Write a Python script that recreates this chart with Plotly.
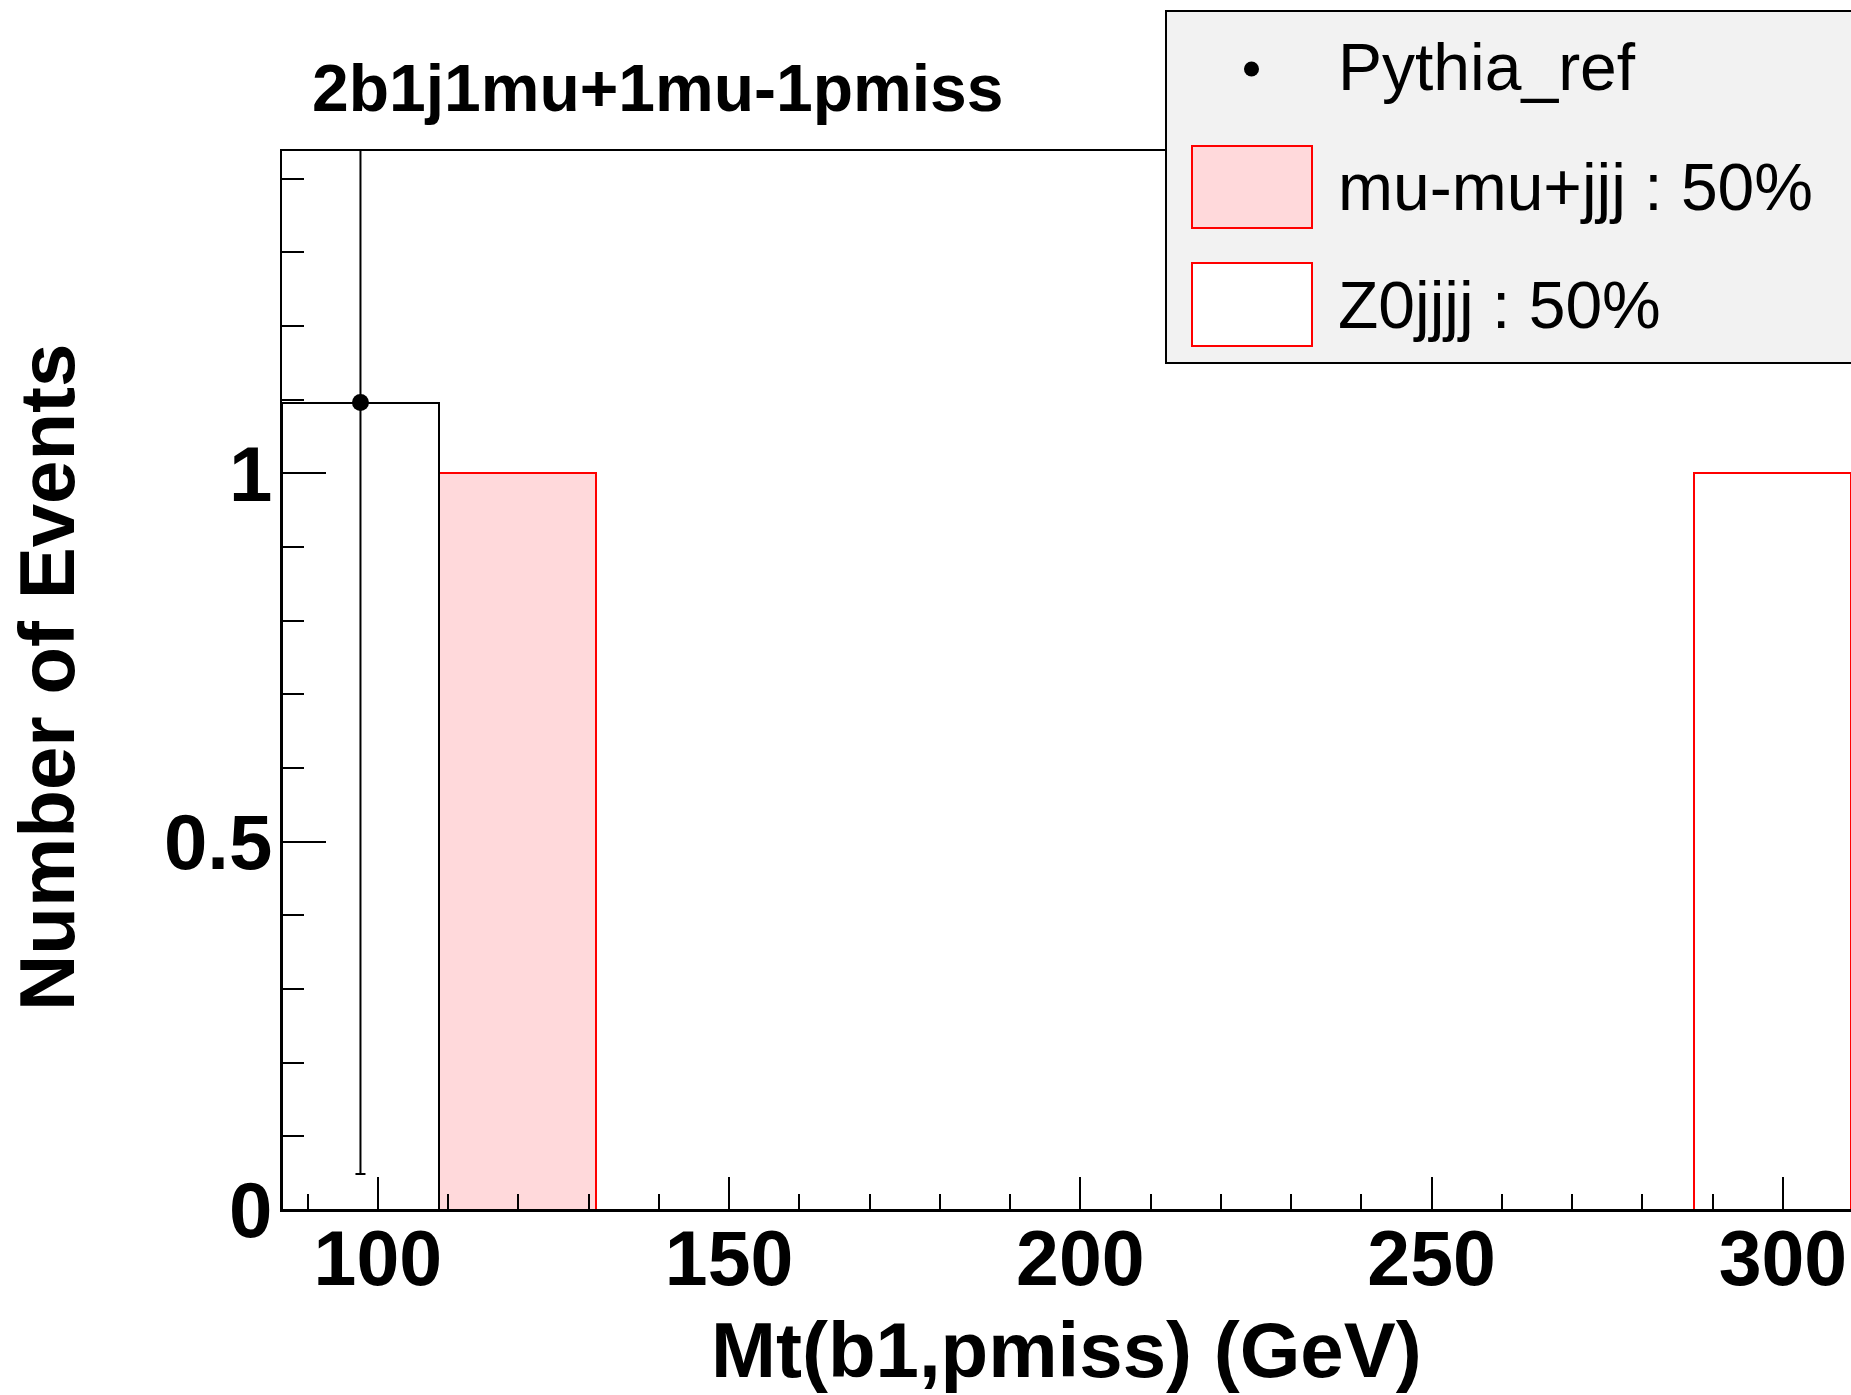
import plotly.graph_objects as go

# ---- histogram definition: Mt(b1,pmiss), 10 equal bins ----
bin_low = 86.36
bin_width = 22.34
n_bins = 10

# event counts per bin
pythia_ref = [1.096, 0, 0, 0, 0, 0, 0, 0, 0, 0]
pythia_err = [1.047, 0, 0, 0, 0, 0, 0, 0, 0, 0]
mumu_jjj = [0, 1, 0, 0, 0, 0, 0, 0, 0, 0]
z0_jjjj = [0, 0, 0, 0, 0, 0, 0, 0, 0, 1]

legend_labels = ["Pythia_ref", "mu-mu+jjj : 50%", "Z0jjjj : 50%"]
title_text = "2b1j1mu+1mu-1pmiss"
x_title = "Mt(b1,pmiss) (GeV)"
y_title = "Number of Events"

centers = [bin_low + (i + 0.5) * bin_width for i in range(n_bins)]
x_max = 309.7

# ---- canvas geometry (pixels) ----
W, H = 1851, 1395
L, T, B, R = 282, 151, 185, 0
PW, PH = W - L - R, H - T - B


def px_x(px):
    return (px - L) / PW


def px_y(py):
    return (H - B - py) / PH


FONT = "Liberation Sans, Arial, Helvetica, sans-serif"
PINK = "rgb(255,217,219)"
RED = "rgb(255,0,0)"

fig = go.Figure()

# stacked MC contributions
fig.add_trace(go.Bar(
    x=centers, y=mumu_jjj, width=bin_width,
    marker=dict(color=PINK, line=dict(color=RED, width=2)),
    name=legend_labels[1], showlegend=False,
))
fig.add_trace(go.Bar(
    x=centers, y=z0_jjjj, base=mumu_jjj, width=bin_width,
    marker=dict(color="white", line=dict(color=RED, width=2)),
    name=legend_labels[2], showlegend=False,
))
# reference sample drawn as an outline histogram
fig.add_trace(go.Bar(
    x=centers, y=pythia_ref, width=bin_width,
    marker=dict(color="rgba(0,0,0,0)", line=dict(color="black", width=2)),
    name=legend_labels[0], showlegend=False,
))
# reference points with errors (non-empty bins only)
pts = [(c, v, e) for c, v, e in zip(centers, pythia_ref, pythia_err) if v > 0]
fig.add_trace(go.Scatter(
    x=[p[0] for p in pts], y=[p[1] for p in pts],
    mode="markers",
    marker=dict(color="black", size=17),
    error_y=dict(type="data", array=[p[2] for p in pts], visible=True,
                 color="black", thickness=2, width=5),
    showlegend=False,
))

fig.update_layout(
    width=W, height=H,
    margin=dict(l=L, r=R, t=T, b=B, pad=0),
    paper_bgcolor="white", plot_bgcolor="white",
    barmode="overlay", bargap=0,
    font=dict(family=FONT, color="black"),
)

fig.update_xaxes(
    range=[bin_low, x_max],
    showgrid=False, zeroline=False,
    showline=True, linecolor="black", linewidth=2, mirror=True,
    ticks="inside", ticklen=33, tickwidth=2, tickcolor="black",
    tick0=0, dtick=50, ticklabelstandoff=-19,
    minor=dict(ticks="inside", ticklen=16, tickwidth=2, tickcolor="black", dtick=10),
    tickfont=dict(family=FONT, size=77, weight="bold", color="black"),
)
fig.update_yaxes(
    range=[0, 1.4375],
    showgrid=False, zeroline=False,
    showline=True, linecolor="black", linewidth=2, mirror=False,
    ticks="inside", ticklen=44, tickwidth=2, tickcolor="black",
    tick0=0, dtick=0.5, ticklabelstandoff=-8,
    minor=dict(ticks="inside", ticklen=22, tickwidth=2, tickcolor="black", dtick=0.1),
    tickfont=dict(family=FONT, size=78, weight="bold", color="black"),
)

annotations = [
    dict(text=title_text, x=px_x(310), y=px_y(88), xref="paper", yref="paper",
         xanchor="left", yanchor="middle", showarrow=False,
         font=dict(family=FONT, size=66, weight="bold", color="black")),
    dict(text=x_title, x=0.5, y=px_y(1350), xref="paper", yref="paper",
         xanchor="center", yanchor="middle", showarrow=False,
         font=dict(family=FONT, size=78, weight="bold", color="black")),
    dict(text=y_title, x=px_x(47), y=px_y(678), xref="paper", yref="paper",
         xanchor="center", yanchor="middle", textangle=-90, showarrow=False,
         font=dict(family=FONT, size=78, weight="bold", color="black")),
]

# legend panel
shapes = [
    dict(type="rect", xref="paper", yref="paper",
         x0=px_x(1166), x1=px_x(1880), y0=px_y(363), y1=px_y(11),
         fillcolor="rgb(242,242,242)", line=dict(color="black", width=2), layer="above"),
    dict(type="circle", xref="paper", yref="paper",
         x0=px_x(1244), x1=px_x(1259), y0=px_y(76.5), y1=px_y(61.5),
         fillcolor="black", line=dict(color="black", width=0), layer="above"),
    dict(type="rect", xref="paper", yref="paper",
         x0=px_x(1192), x1=px_x(1312), y0=px_y(228), y1=px_y(146),
         fillcolor=PINK, line=dict(color=RED, width=2), layer="above"),
    dict(type="rect", xref="paper", yref="paper",
         x0=px_x(1192), x1=px_x(1312), y0=px_y(346), y1=px_y(263),
         fillcolor="white", line=dict(color=RED, width=2), layer="above"),
]
for label, yc in zip(legend_labels, [67, 187, 305]):
    annotations.append(dict(
        text=label, x=px_x(1336), y=px_y(yc), xref="paper", yref="paper",
        xanchor="left", yanchor="middle", showarrow=False,
        font=dict(family=FONT, size=66, color="black")))

fig.update_layout(annotations=annotations, shapes=shapes)

fig.write_html("out.html")
